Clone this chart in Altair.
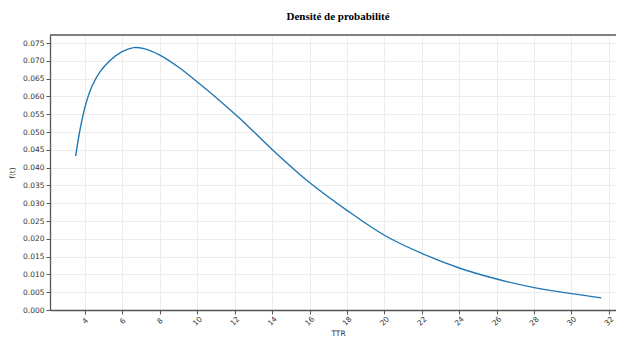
import altair as alt
import pandas as pd

ttr = [3.5, 3.73, 4.0, 4.36, 4.8, 5.34, 5.96, 6.6, 7.1, 8.0, 9.08, 10.15, 11.2, 12.28,
       14, 16, 18, 20, 22, 24, 26, 28, 30, 31.6]
ft = [0.0432, 0.0505, 0.0570, 0.0627, 0.0669, 0.0701, 0.0725, 0.0737, 0.0735, 0.0716, 0.0679, 0.0634,
      0.0588, 0.0538, 0.0451, 0.0358, 0.0280, 0.0210, 0.0159, 0.0118, 0.0087, 0.0063, 0.0046, 0.0034]
x_ticks = [4, 6, 8, 10, 12, 14, 16, 18, 20, 22, 24, 26, 28, 30, 32]
y_ticks = [0.0, 0.005, 0.01, 0.015, 0.02, 0.025, 0.03, 0.035, 0.04, 0.045, 0.05, 0.055, 0.06, 0.065, 0.07, 0.075]

df = pd.DataFrame({"TTR": ttr, "f": ft})

x_enc = alt.X("TTR:Q", title="TTR",
              scale=alt.Scale(domain=[2.13, 32.38], nice=False, zero=False),
              axis=alt.Axis(values=x_ticks, labelAngle=-45, labelAlign="center", labelBaseline="middle",
                            labelPadding=7, titleX=288, titleY=25, titleBaseline="alphabetic"))
y_enc = alt.Y("f:Q", title="f(t)",
              scale=alt.Scale(domain=[0, 0.07725], nice=False),
              axis=alt.Axis(values=y_ticks, format=".3f", titlePadding=6))

line = alt.Chart(df).mark_line(color="#1f77b4", strokeWidth=1.4, interpolate="catmull-rom").encode(
    x=x_enc, y=y_enc)

top = alt.Chart(pd.DataFrame({"a": [0]})).mark_rule(color="#555555", strokeWidth=1.3).encode(
    y=alt.value(0))

chart = alt.layer(line, top).properties(
    width=566, height=275,
    autosize=alt.AutoSizeParams(type="none"),
    padding={"left": 42, "top": 27, "right": 0, "bottom": 28},
    title=alt.TitleParams("Densité de probabilité", font="Liberation Serif", fontSize=11,
                          fontWeight="bold", color="#000000", anchor="middle", dx=5, offset=12),
).configure_view(stroke=None).configure_axis(
    labelFont="DejaVu Sans", labelFontSize=7.5, labelColor="#333333",
    titleFont="DejaVu Sans", titleFontSize=7.5, titleFontWeight="normal", titleColor="#333333",
    gridColor="#e8e8e8", gridWidth=0.8,
    domainColor="#555555", domainWidth=1.3,
    tickColor="#555555", tickSize=4, tickWidth=1,
)

chart.save("out.html", embed_options={"renderer": "svg", "actions": False})
